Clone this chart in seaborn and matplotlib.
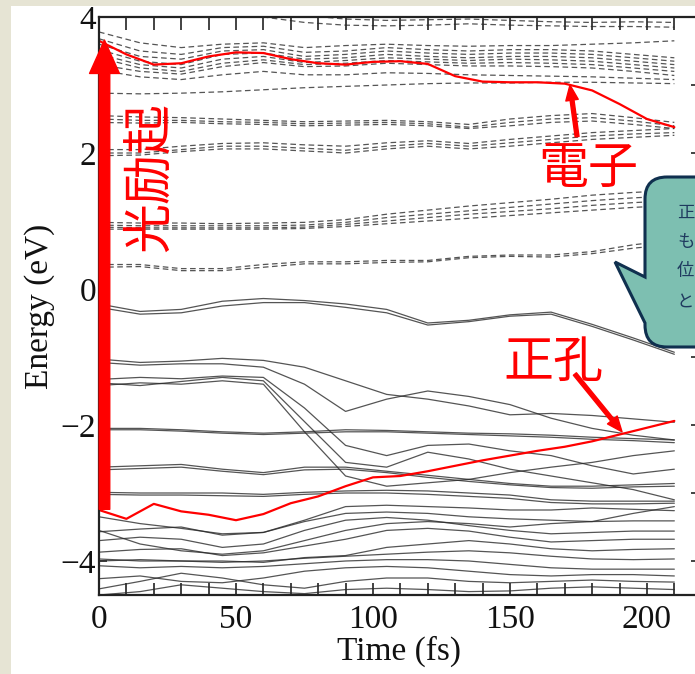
import numpy as np
import pandas as pd
import matplotlib
matplotlib.use("Agg")
import matplotlib.pyplot as plt
import seaborn as sns
from matplotlib.patches import FancyArrowPatch, PathPatch, Rectangle, ArrowStyle
from matplotlib.path import Path
from matplotlib.transforms import IdentityTransform
from matplotlib.ticker import MultipleLocator

# ---------------- data ----------------
time_c = [0, 15, 30, 45, 60, 75, 90, 105, 120, 135, 150, 165, 180, 195, 210]
time_f = [0, 10, 20, 30, 40, 50, 60, 70, 80, 90, 100, 110, 120, 130, 140, 150,
          160, 170, 180, 190, 200, 210]

# unoccupied (dashed) levels
cb_01 = [4.30, 4.25, 4.20, 4.15, 4.10, 4.02, 3.97, 3.95, 3.96, 3.97, 3.95, 3.93, 3.92, 3.93, 3.92]
cb_02 = [4.20, 4.15, 4.10, 4.05, 4.00, 3.92, 3.88, 3.87, 3.88, 3.90, 3.88, 3.87, 3.86, 3.86, 3.85]
cb_03 = [3.78, 3.62, 3.55, 3.60, 3.62, 3.55, 3.58, 3.60, 3.58, 3.57, 3.58, 3.58, 3.60, 3.62, 3.65]
cb_04 = [3.68, 3.50, 3.45, 3.55, 3.57, 3.48, 3.50, 3.55, 3.52, 3.50, 3.52, 3.52, 3.50, 3.45, 3.40]
cb_05 = [3.60, 3.42, 3.38, 3.50, 3.52, 3.42, 3.45, 3.50, 3.47, 3.45, 3.47, 3.47, 3.45, 3.40, 3.35]
cb_06 = [3.52, 3.35, 3.30, 3.45, 3.47, 3.38, 3.40, 3.45, 3.42, 3.40, 3.42, 3.42, 3.40, 3.35, 3.30]
cb_07 = [3.45, 3.30, 3.25, 3.38, 3.42, 3.33, 3.36, 3.40, 3.38, 3.36, 3.38, 3.37, 3.35, 3.30, 3.25]
cb_08 = [3.40, 3.25, 3.20, 3.32, 3.37, 3.30, 3.32, 3.36, 3.34, 3.32, 3.33, 3.32, 3.30, 3.25, 3.20]
cb_09 = [3.30, 3.20, 3.16, 3.27, 3.33, 3.27, 3.28, 3.32, 3.30, 3.28, 3.28, 3.27, 3.25, 3.20, 3.14]
cb_10 = [3.22, 3.12, 3.08, 3.15, 3.20, 3.15, 3.15, 3.18, 3.17, 3.15, 3.14, 3.13, 3.12, 3.10, 3.08]
cb_11 = [2.88, 2.87, 2.88, 2.90, 2.93, 2.96, 2.98, 3.00, 3.02, 3.03, 3.03, 3.04, 3.04, 3.03, 3.02]
cb_12 = [2.55, 2.53, 2.52, 2.50, 2.48, 2.46, 2.47, 2.48, 2.46, 2.42, 2.50, 2.55, 2.58, 2.52, 2.45]
cb_13 = [2.50, 2.48, 2.48, 2.46, 2.45, 2.43, 2.44, 2.45, 2.43, 2.38, 2.45, 2.50, 2.52, 2.47, 2.40]
cb_14 = [2.45, 2.44, 2.45, 2.43, 2.42, 2.40, 2.41, 2.42, 2.40, 2.36, 2.40, 2.45, 2.47, 2.42, 2.36]
cb_15 = [2.05, 2.05, 2.10, 2.14, 2.15, 2.12, 2.10, 2.15, 2.18, 2.14, 2.20, 2.25, 2.30, 2.33, 2.36]
cb_16 = [2.00, 2.00, 2.05, 2.10, 2.10, 2.07, 2.04, 2.10, 2.14, 2.10, 2.15, 2.20, 2.25, 2.28, 2.30]
cb_17 = [1.96, 1.97, 2.02, 2.06, 2.06, 2.03, 2.00, 2.06, 2.10, 2.06, 2.10, 2.15, 2.20, 2.23, 2.26]
cb_18 = [0.98, 0.97, 0.97, 0.96, 0.97, 0.98, 1.02, 1.10, 1.16, 1.22, 1.27, 1.32, 1.38, 1.42, 1.45]
cb_19 = [0.94, 0.93, 0.93, 0.93, 0.93, 0.94, 0.98, 1.05, 1.10, 1.15, 1.20, 1.25, 1.30, 1.34, 1.37]
cb_20 = [0.91, 0.90, 0.90, 0.90, 0.90, 0.91, 0.95, 1.00, 1.05, 1.10, 1.14, 1.18, 1.23, 1.27, 1.30]
cb_21 = [0.88, 0.88, 0.88, 0.88, 0.88, 0.89, 0.92, 0.96, 1.00, 1.04, 1.08, 1.12, 1.16, 1.20, 1.23]
cb_22 = [0.36, 0.36, 0.30, 0.30, 0.36, 0.40, 0.40, 0.42, 0.42, 0.48, 0.50, 0.50, 0.55, 0.65, 0.72]
cb_23 = [0.32, 0.33, 0.27, 0.27, 0.32, 0.37, 0.37, 0.39, 0.40, 0.46, 0.48, 0.47, 0.52, 0.60, 0.66]

# occupied (solid) levels
vb_01 = [-0.22, -0.33, -0.30, -0.18, -0.14, -0.17, -0.22, -0.30, -0.50, -0.46, -0.38, -0.34, -0.52, -0.72, -0.93]
vb_02 = [-0.27, -0.37, -0.35, -0.25, -0.20, -0.20, -0.27, -0.35, -0.53, -0.48, -0.40, -0.37, -0.55, -0.75, -0.96]
vb_03 = [-1.03, -1.08, -1.06, -1.02, -1.05, -1.15, -1.35, -1.55, -1.62, -1.72, -1.85, -1.83, -1.86, -1.91, -1.96]
vb_04 = [-1.08, -1.12, -1.10, -1.10, -1.15, -1.40, -1.80, -1.62, -1.50, -1.58, -1.70, -1.90, -2.05, -2.15, -2.22]
vb_05 = [-1.33, -1.30, -1.32, -1.28, -1.30, -1.75, -2.30, -2.45, -2.30, -2.28, -2.38, -2.45, -2.60, -2.72, -2.65]
vb_06 = [-1.38, -1.42, -1.36, -1.30, -1.35, -1.95, -2.55, -2.62, -2.40, -2.50, -2.65, -2.75, -2.85, -2.95, -3.10]
vb_07 = [-1.42, -1.38, -1.40, -1.35, -1.40, -2.10, -2.75, -2.90, -2.85, -2.80, -2.70, -2.62, -2.55, -2.45, -2.38]
vb_08 = [-2.05, -2.05, -2.07, -2.10, -2.12, -2.10, -2.07, -2.08, -2.10, -2.12, -2.13, -2.15, -2.18, -2.20, -2.22]
vb_09 = [-2.07, -2.07, -2.09, -2.12, -2.14, -2.12, -2.10, -2.10, -2.12, -2.14, -2.16, -2.18, -2.21, -2.23, -2.26]
vb_10 = [-2.62, -2.60, -2.58, -2.65, -2.70, -2.62, -2.62, -2.68, -2.74, -2.80, -2.86, -2.90, -2.90, -2.88, -2.86]
vb_11 = [-2.66, -2.64, -2.62, -2.68, -2.73, -2.66, -2.65, -2.70, -2.77, -2.83, -2.88, -2.92, -2.93, -2.91, -2.90]
vb_12 = [-2.99, -3.00, -3.00, -3.00, -3.02, -2.99, -2.97, -2.96, -2.97, -3.00, -3.03, -3.10, -3.12, -3.12, -3.12]
vb_13 = [-3.02, -3.03, -3.03, -3.04, -3.05, -3.02, -3.00, -3.00, -3.02, -3.05, -3.08, -3.14, -3.16, -3.16, -3.15]
vb_14 = [-3.35, -3.45, -3.52, -3.60, -3.58, -3.40, -3.20, -3.18, -3.20, -3.22, -3.25, -3.25, -3.22, -3.24, -3.26]
vb_15 = [-3.57, -3.53, -3.50, -3.62, -3.58, -3.42, -3.30, -3.28, -3.30, -3.35, -3.38, -3.40, -3.42, -3.41, -3.41]
vb_16 = [-3.70, -3.65, -3.68, -3.80, -3.75, -3.55, -3.40, -3.36, -3.40, -3.48, -3.55, -3.60, -3.58, -3.56, -3.56]
vb_17 = [-3.87, -3.83, -3.82, -3.92, -3.88, -3.78, -3.68, -3.55, -3.52, -3.56, -3.65, -3.72, -3.70, -3.68, -3.68]
vb_18 = [-3.97, -4.00, -4.00, -4.00, -4.02, -3.95, -3.92, -3.80, -3.75, -3.70, -3.75, -3.82, -3.85, -3.83, -3.82]
vb_19 = [-4.00, -3.98, -4.00, -4.02, -4.00, -3.96, -3.93, -3.90, -3.87, -3.85, -3.88, -3.93, -3.97, -3.98, -3.97]
vb_20 = [-4.07, -4.10, -4.08, -4.10, -4.08, -4.04, -4.00, -3.98, -3.98, -4.00, -4.05, -4.10, -4.12, -4.12, -4.12]
vb_21 = [-4.26, -4.22, -4.30, -4.32, -4.25, -4.15, -4.10, -4.08, -4.10, -4.15, -4.20, -4.22, -4.20, -4.20, -4.22]
vb_22 = [-4.41, -4.30, -4.18, -4.25, -4.35, -4.40, -4.30, -4.25, -4.25, -4.30, -4.32, -4.30, -4.28, -4.30, -4.31]
vb_23 = [-3.55, -3.75, -3.85, -3.90, -3.85, -3.70, -3.55, -3.45, -3.42, -3.45, -3.50, -3.45, -3.42, -3.30, -3.20]
vb_24 = [-4.50, -4.45, -4.35, -4.40, -4.45, -4.48, -4.42, -4.40, -4.42, -4.45, -4.44, -4.40, -4.38, -4.40, -4.42]

# tracked electron and hole (red)
electron = [3.65, 3.45, 3.30, 3.32, 3.42, 3.48, 3.47, 3.38, 3.32, 3.30, 3.34, 3.35,
            3.31, 3.13, 3.05, 3.04, 3.04, 3.02, 2.92, 2.72, 2.50, 2.38]
hole = [-3.25, -3.38, -3.16, -3.27, -3.32, -3.40, -3.31, -3.15, -3.05, -2.90, -2.77,
        -2.75, -2.68, -2.60, -2.52, -2.45, -2.38, -2.32, -2.24, -2.14, -2.04, -1.94]

x_ticks = [0, 50, 100, 150, 200]
y_ticks = [-4, -2, 0, 2, 4]
callout_lines = ["正", "も", "位", "と"]   # visible part of the balloon text

# ---------------- build tables ----------------
cb_all = [cb_01, cb_02, cb_03, cb_04, cb_05, cb_06, cb_07, cb_08, cb_09, cb_10, cb_11, cb_12,
          cb_13, cb_14, cb_15, cb_16, cb_17, cb_18, cb_19, cb_20, cb_21, cb_22, cb_23]
vb_all = [vb_01, vb_02, vb_03, vb_04, vb_05, vb_06, vb_07, vb_08, vb_09, vb_10, vb_11, vb_12,
          vb_13, vb_14, vb_15, vb_16, vb_17, vb_18, vb_19, vb_20, vb_21, vb_22, vb_23, vb_24]
rows = []
for i, vals in enumerate(cb_all):
    for t, e in zip(time_c, vals):
        rows.append(dict(time=t, energy=e, band=f"c{i}", kind="unoccupied"))
for i, vals in enumerate(vb_all):
    for t, e in zip(time_c, vals):
        rows.append(dict(time=t, energy=e, band=f"v{i}", kind="occupied"))
levels = pd.DataFrame(rows)
tracked = pd.concat([
    pd.DataFrame(dict(time=time_f, energy=electron, carrier="electron")),
    pd.DataFrame(dict(time=time_f, energy=hole, carrier="hole")),
])

# ---------------- figure ----------------
sns.set_theme(style="white")
plt.rcParams["font.family"] = ["Liberation Serif", "DejaVu Serif"]
plt.rcParams["axes.unicode_minus"] = True

W, H = 695, 674
fig = plt.figure(figsize=(W / 100, H / 100), dpi=100, facecolor="#e6e4d4")
fig.add_artist(Rectangle((11 / W, 0), 1, (H - 6) / H, transform=fig.transFigure,
                         facecolor="white", edgecolor="none", zorder=-5))

ax_l, ax_r, ax_t, ax_b = 99, 699, 17, 595
ax = fig.add_axes([ax_l / W, 1 - ax_b / H, (ax_r - ax_l) / W, (ax_b - ax_t) / H])
ax.set_facecolor("white")

sns.lineplot(data=levels, x="time", y="energy", units="band", estimator=None,
             style="kind", dashes={"occupied": "", "unoccupied": (4.5, 2.8)},
             color="#2a2a2a", linewidth=0.9, alpha=0.8, legend=False, ax=ax, sort=False)
sns.lineplot(data=tracked, x="time", y="energy", units="carrier", estimator=None,
             color="#ff0000", linewidth=1.6, legend=False, ax=ax, sort=False)

ax.set_xlim(0, 219)
ax.set_ylim(-4.5, 4.0)
ax.set_xticks(x_ticks)
ax.set_yticks(y_ticks)
ax.xaxis.set_minor_locator(MultipleLocator(10))
ax.yaxis.set_minor_locator(MultipleLocator(1))
ax.tick_params(axis="x", which="both", direction="in", top=True, bottom=True,
               length=9, width=1.2, color="#222222", labelsize=24, pad=7, labelcolor="#111111")
ax.tick_params(axis="y", which="both", direction="in", left=True, right=True,
               length=6, width=1.2, color="#222222", labelsize=24, pad=2, labelcolor="#111111")
for s in ax.spines.values():
    s.set_color("#222222")
    s.set_linewidth(1.6)
ax.set_xlabel("Time (fs)", fontsize=24, labelpad=0, color="#111111")
ax.set_ylabel("Energy (eV)", fontsize=24, labelpad=4, color="#111111")

cjk = ["Noto Sans CJK JP", "DejaVu Sans"]

# photo-excitation arrow
big = FancyArrowPatch((2.0, -3.24), (2.0, 3.66),
                      arrowstyle=ArrowStyle.Simple(head_length=24, head_width=21.5, tail_width=7.6),
                      mutation_scale=1, color="#ff0000", shrinkA=0, shrinkB=0,
                      zorder=6, clip_on=False)
ax.add_patch(big)
ax.text(18.6, 1.65, "光励起", rotation=90, fontsize=36, color="#ff0000", family=cjk,
        ha="center", va="center", zorder=7)

# electron label + arrow
ax.text(178.5, 1.76, "電子", fontsize=36, color="#ff0000", family=cjk,
        ha="center", va="center", zorder=7)
ax.add_patch(FancyArrowPatch((174.5, 2.24), (171.9, 3.0),
                             arrowstyle=ArrowStyle.Simple(head_length=11, head_width=9, tail_width=2.8),
                             mutation_scale=1, color="#ff0000", shrinkA=0, shrinkB=0, zorder=7))
# hole label + arrow
ax.text(166, -1.09, "正孔", fontsize=36, color="#ff0000", family=cjk,
        ha="center", va="center", zorder=7)
ax.add_patch(FancyArrowPatch((173.7, -1.25), (190.9, -2.10),
                             arrowstyle=ArrowStyle.Simple(head_length=11, head_width=9, tail_width=2.8),
                             mutation_scale=1, color="#ff0000", shrinkA=0, shrinkB=0, zorder=7))

# callout balloon (pixel coordinates, origin bottom-left)
def P(x, y):
    return (x, H - y)
r = 22
bx0, by0, by1, bx1 = 645, 177, 347, 800
verts = [P(bx0 + r, by0), P(bx1, by0), P(bx1, by1), P(bx0 + r, by1),
         P(bx0, by1), P(bx0, by1 - r),
         P(bx0, 323), P(615, 262), P(bx0, 277),
         P(bx0, by0 + r), P(bx0, by0), P(bx0 + r, by0), P(bx0 + r, by0)]
codes = [Path.MOVETO, Path.LINETO, Path.LINETO, Path.LINETO,
         Path.CURVE3, Path.CURVE3,
         Path.LINETO, Path.LINETO, Path.LINETO,
         Path.LINETO, Path.CURVE3, Path.CURVE3, Path.CLOSEPOLY]
fig.add_artist(PathPatch(Path(verts, codes), transform=IdentityTransform(),
                         facecolor="#7dbfb1", edgecolor="#10304f", linewidth=2.2, zorder=3))
for txt, (tx, ty) in zip(callout_lines, [(677, 213), (677, 242), (677, 271), (677, 302)]):
    fig.text(tx / W, 1 - ty / H, txt, fontsize=12.5, color="#1f3a5f", family=cjk,
             ha="left", va="center", zorder=4)

fig.savefig("out.png", dpi=100, facecolor=fig.get_facecolor())
